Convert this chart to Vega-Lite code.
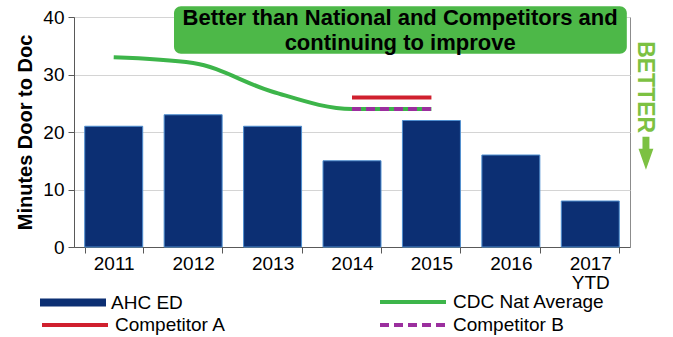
{
  "$schema": "https://vega.github.io/schema/vega-lite/v6.json",
  "width": 556,
  "height": 230,
  "autosize": {"type": "none"},
  "padding": {"left": 74, "top": 17, "right": 43, "bottom": 90},
  "background": "white",
  "config": {
    "font": "Liberation Sans",
    "view": {"stroke": "#8c8c8c", "strokeWidth": 1},
    "legend": {
      "title": null, "orient": "none",
      "labelFontSize": 19, "labelColor": "black", "labelOffset": 5, "labelLimit": 300,
      "symbolSize": 4356, "symbolStrokeWidth": 4, "symbolOpacity": 1
    }
  },
  "datasets": {
    "bars": [
      {"year": "2011", "minutes": 21, "series": "AHC ED"},
      {"year": "2012", "minutes": 23, "series": "AHC ED"},
      {"year": "2013", "minutes": 21, "series": "AHC ED"},
      {"year": "2014", "minutes": 15, "series": "AHC ED"},
      {"year": "2015", "minutes": 22, "series": "AHC ED"},
      {"year": "2016", "minutes": 16, "series": "AHC ED"},
      {"year": "2017 YTD", "minutes": 8, "series": "AHC ED"}
    ],
    "cdc": [
      {"year": "2011", "minutes": 33, "series": "CDC Nat Average"},
      {"year": "2012", "minutes": 32, "series": "CDC Nat Average"},
      {"year": "2013", "minutes": 27, "series": "CDC Nat Average"},
      {"year": "2014", "minutes": 24, "series": "CDC Nat Average"},
      {"year": "2015", "minutes": 24, "series": "CDC Nat Average"}
    ],
    "compA": [
      {"year": "2014", "minutes": 26, "series": "Competitor A"},
      {"year": "2015", "minutes": 26, "series": "Competitor A"}
    ],
    "compB": [
      {"year": "2014", "minutes": 24, "series": "Competitor B"},
      {"year": "2015", "minutes": 24, "series": "Competitor B"}
    ],
    "box": [{"start": "2012", "end": "2017 YTD", "top": 41.86, "bottom": 33.6}],
    "note": [
      {"year": "2014", "y": 38.56, "text": "Better than National and Competitors and"},
      {"year": "2014", "y": 34.2, "text": "continuing to improve"}
    ],
    "better": [{"year": "2017 YTD", "y": 27.8, "text": "BETTER"}],
    "arrow": [{"year": "2017 YTD", "y": 16.3}]
  },
  "layer": [
    {
      "data": {"name": "bars"},
      "mark": {"type": "bar", "stroke": "#4F8FD0", "strokeWidth": 1},
      "encoding": {
        "x": {
          "field": "year", "type": "ordinal", "sort": null, "title": null,
          "scale": {"domain": ["2011", "2012", "2013", "2014", "2015", "2016", "2017 YTD"], "paddingInner": 0.27, "paddingOuter": 0.135},
          "axis": {
            "labelFontSize": 19, "labelColor": "black", "labelAngle": 0, "labelPadding": 1,
            "tickBand": "extent", "tickSize": 6, "tickColor": "#595959", "domainColor": "#595959",
            "labelExpr": "split(datum.label, ' ')", "labelLineHeight": 19, "grid": false
          }
        },
        "y": {
          "field": "minutes", "type": "quantitative", "title": "Minutes Door to Doc",
          "scale": {"domain": [0, 40], "nice": false},
          "axis": {
            "values": [0, 10, 20, 30, 40], "grid": true, "gridColor": "#d4d4d4",
            "domainColor": "#595959", "tickColor": "#595959", "tickSize": 6,
            "labelFontSize": 19, "labelColor": "black", "labelPadding": 4,
            "titleFontSize": 20, "titleFontWeight": "bold", "titleColor": "black", "titlePadding": 7
          }
        },
        "fill": {
          "field": "series", "type": "nominal",
          "scale": {"domain": ["AHC ED"], "range": ["#0C2F73"]},
          "legend": {
            "legendX": -34, "legendY": 252.5,
            "symbolType": "M-1,-0.12H1V0.12H-1Z", "symbolStrokeWidth": 0
          }
        }
      }
    },
    {
      "data": {"name": "cdc"},
      "mark": {"type": "line", "strokeWidth": 4, "interpolate": "monotone"},
      "encoding": {
        "x": {"field": "year", "type": "ordinal", "sort": null, "title": null},
        "y": {"field": "minutes", "type": "quantitative", "title": "Minutes Door to Doc"},
        "stroke": {
          "field": "series", "type": "nominal",
          "scale": {"domain": ["CDC Nat Average"], "range": ["#3DB54A"]},
          "legend": {"legendX": 304, "legendY": 250, "symbolType": "stroke"}
        }
      }
    },
    {
      "data": {"name": "compA"},
      "mark": {"type": "line", "strokeWidth": 4},
      "encoding": {
        "x": {"field": "year", "type": "ordinal", "sort": null, "title": null},
        "y": {"field": "minutes", "type": "quantitative", "title": "Minutes Door to Doc"},
        "color": {
          "field": "series", "type": "nominal",
          "scale": {"domain": ["Competitor A"], "range": ["#D0202E"]},
          "legend": {"legendX": -34, "legendY": 273, "symbolType": "stroke"}
        }
      }
    },
    {
      "data": {"name": "compB"},
      "mark": {"type": "line", "strokeWidth": 4, "color": "#9B2F9E"},
      "encoding": {
        "x": {"field": "year", "type": "ordinal", "sort": null, "title": null},
        "y": {"field": "minutes", "type": "quantitative", "title": "Minutes Door to Doc"},
        "strokeDash": {
          "field": "series", "type": "nominal",
          "scale": {"domain": ["Competitor B"], "range": [[9, 5]]},
          "legend": {"legendX": 304, "legendY": 273, "symbolType": "stroke", "symbolStrokeColor": "#9B2F9E"}
        }
      }
    },
    {
      "data": {"name": "box"},
      "mark": {"type": "rect", "fill": "#4DB848", "cornerRadius": 7},
      "encoding": {
        "x": {"field": "start", "type": "ordinal", "bandPosition": 0.17, "title": null},
        "x2": {"field": "end", "bandPosition": 1.13},
        "y": {"field": "top", "type": "quantitative", "title": "Minutes Door to Doc"},
        "y2": {"field": "bottom"}
      }
    },
    {
      "data": {"name": "note"},
      "mark": {"type": "text", "fontSize": 22, "fontWeight": "bold", "color": "black", "align": "center", "baseline": "alphabetic"},
      "encoding": {
        "x": {"field": "year", "type": "ordinal", "bandPosition": 1.33, "title": null},
        "y": {"field": "y", "type": "quantitative", "title": "Minutes Door to Doc"},
        "text": {"field": "text"}
      }
    },
    {
      "data": {"name": "better"},
      "mark": {"type": "text", "fontSize": 23, "fontWeight": "bold", "color": "#7CC142", "angle": 90, "align": "center", "baseline": "middle"},
      "encoding": {
        "x": {"field": "year", "type": "ordinal", "bandPosition": 1.44, "title": null},
        "y": {"field": "y", "type": "quantitative", "title": "Minutes Door to Doc"},
        "text": {"field": "text"}
      }
    },
    {
      "data": {"name": "arrow"},
      "mark": {"type": "point", "filled": true, "fill": "#7CC142", "opacity": 1, "size": 1089, "strokeWidth": 0, "shape": "M-0.21,-1H0.21V-0.27H0.45L0,1L-0.45,-0.27H-0.21Z"},
      "encoding": {
        "x": {"field": "year", "type": "ordinal", "bandPosition": 1.46, "title": null},
        "y": {"field": "y", "type": "quantitative", "title": "Minutes Door to Doc"}
      }
    }
  ]
}
